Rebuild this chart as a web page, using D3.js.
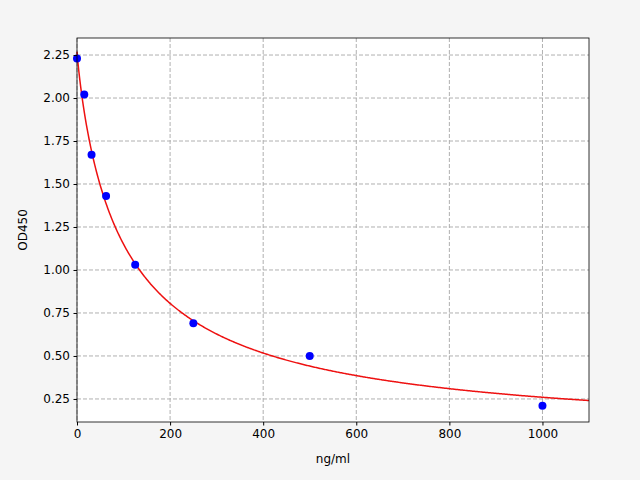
<!DOCTYPE html><html><head><meta charset="utf-8"><script src="https://cdn.jsdelivr.net/npm/d3@7"></script>
<style>body{margin:0;background:#f5f5f5}text{font-family:"DejaVu Sans",sans-serif}</style></head><body><svg id="c" width="640" height="480"></svg>
<script>
const concentrations=[0,15.6,31.25,62.5,125,250,500,1000];
const od=[2.23,2.02,1.67,1.43,1.03,0.69,0.50,0.21];
const fitParams={a:2.27,b:0.9,c:103,d:0};
const xTicks=[0,200,400,600,800,1000];
const yTicks=[0.25,0.5,0.75,1.0,1.25,1.5,1.75,2.0,2.25];
const svg=d3.select("#c");
const L=77,R=589,T=38,B=422;
const x=d3.scaleLinear().domain([0,1100]).range([L,R]);
const y=d3.scaleLinear().domain([0.116,2.349]).range([B,T]);
svg.append("rect").attr("x",L).attr("y",T).attr("width",R-L).attr("height",B-T).attr("fill","#fff");
const g=svg.append("g");
xTicks.forEach(t=>g.append("line").attr("x1",x(t)).attr("x2",x(t)).attr("y1",T).attr("y2",B).attr("stroke","#b0b0b0").attr("stroke-dasharray","4,2"));
yTicks.forEach(t=>g.append("line").attr("x1",L).attr("x2",R).attr("y1",y(t)).attr("y2",y(t)).attr("stroke","#b0b0b0").attr("stroke-dasharray","4,2"));
const f=v=>fitParams.d+(fitParams.a-fitParams.d)/(1+Math.pow(v/fitParams.c,fitParams.b));
const xs=d3.range(0,1101,2);
svg.append("path").attr("d",d3.line().x(v=>x(v)).y(v=>y(f(v)))(xs)).attr("fill","none").attr("stroke","#ee1111").attr("stroke-width",1.5);
svg.selectAll("circle").data(concentrations).join("circle").attr("cx",d=>x(d)).attr("cy",(d,i)=>y(od[i])).attr("r",4).attr("fill","#0000ff");
svg.append("g").attr("transform",`translate(0,${B})`).call(d3.axisBottom(x).tickValues(xTicks).tickFormat(d3.format("d")).tickSize(3.5).tickPadding(3.5)).call(a=>a.select(".domain").remove()).selectAll("text").attr("font-size",12).attr("fill","#000");
svg.append("g").attr("transform",`translate(${L},0)`).call(d3.axisLeft(y).tickValues(yTicks).tickFormat(d3.format(".2f")).tickSize(3.5).tickPadding(3.5)).call(a=>a.select(".domain").remove()).selectAll("text").attr("font-size",12).attr("fill","#000");
svg.append("rect").attr("x",L).attr("y",T).attr("width",R-L).attr("height",B-T).attr("fill","none").attr("stroke","#000").attr("stroke-width",0.8);
svg.append("text").attr("x",(L+R)/2).attr("y",463).attr("text-anchor","middle").attr("font-size",12).text("ng/ml");
svg.append("text").attr("transform",`translate(27,${(T+B)/2}) rotate(-90)`).attr("text-anchor","middle").attr("font-size",12).text("OD450");
</script></body></html>
